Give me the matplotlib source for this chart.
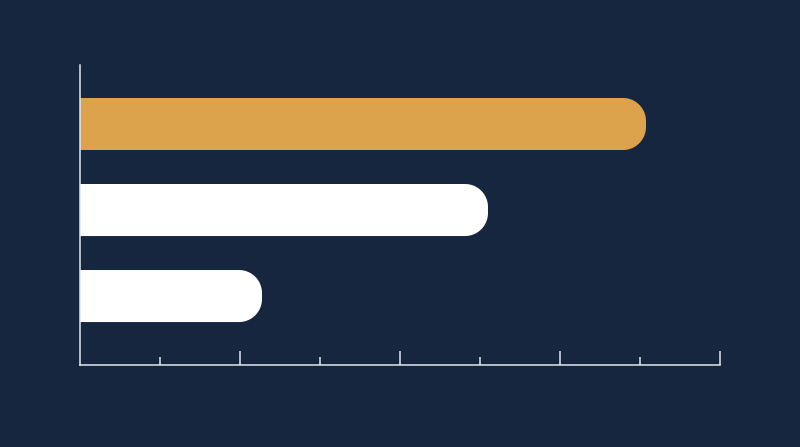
import matplotlib
matplotlib.use("Agg")
import matplotlib.pyplot as plt
from matplotlib.patches import Polygon
import numpy as np

values = [2.275, 5.1, 7.075]
colors = ["#ffffff", "#ffffff", "#dca24c"]
ypos = [0, 1, 2]

bg = "#17263f"
line = "#dfe6ef"
bar_h = 0.605
r_px = 23


def bar_outline(y, v, h, rx, ry):
    # flat left end, circular corners on the right end
    t1 = np.linspace(np.pi / 2, 0, 20)
    t2 = np.linspace(0, -np.pi / 2, 20)
    cx = v - rx
    top = np.column_stack([cx + rx * np.cos(t1), y + h / 2 - ry + ry * np.sin(t1)])
    bot = np.column_stack([cx + rx * np.cos(t2), y - h / 2 + ry + ry * np.sin(t2)])
    return np.vstack([[[0, y + h / 2]], top, bot, [[0, y - h / 2]]])


fig = plt.figure(figsize=(8, 4.47), dpi=100, facecolor=bg)
ax = fig.add_axes([0.1, 0.1834, 0.8, 0.6712])
ax.set_facecolor(bg)
ax.set_xlim(0, 8)
ax.set_ylim(-0.802, 2.686)

# px per unit: x 80, y 86
rx, ry = r_px / 80, r_px / 86
for y, v, c in zip(ypos, values, colors):
    ax.add_patch(Polygon(bar_outline(y, v, bar_h, rx, ry), closed=True,
                         fc=c, ec="none", zorder=2))

for s in ["top", "right"]:
    ax.spines[s].set_visible(False)
for s in ["left", "bottom"]:
    ax.spines[s].set_color(line)
    ax.spines[s].set_linewidth(1.1)
    ax.spines[s].set_zorder(3)

ax.set_xticks([2, 4, 6, 8])
ax.set_xticks([1, 3, 5, 7], minor=True)
ax.tick_params(axis="x", which="major", direction="in", length=10, width=1.1, color=line, labelbottom=False)
ax.tick_params(axis="x", which="minor", direction="in", length=6, width=1.1, color=line)
ax.set_yticks([])

fig.savefig("out.png", dpi=100, facecolor=bg)
